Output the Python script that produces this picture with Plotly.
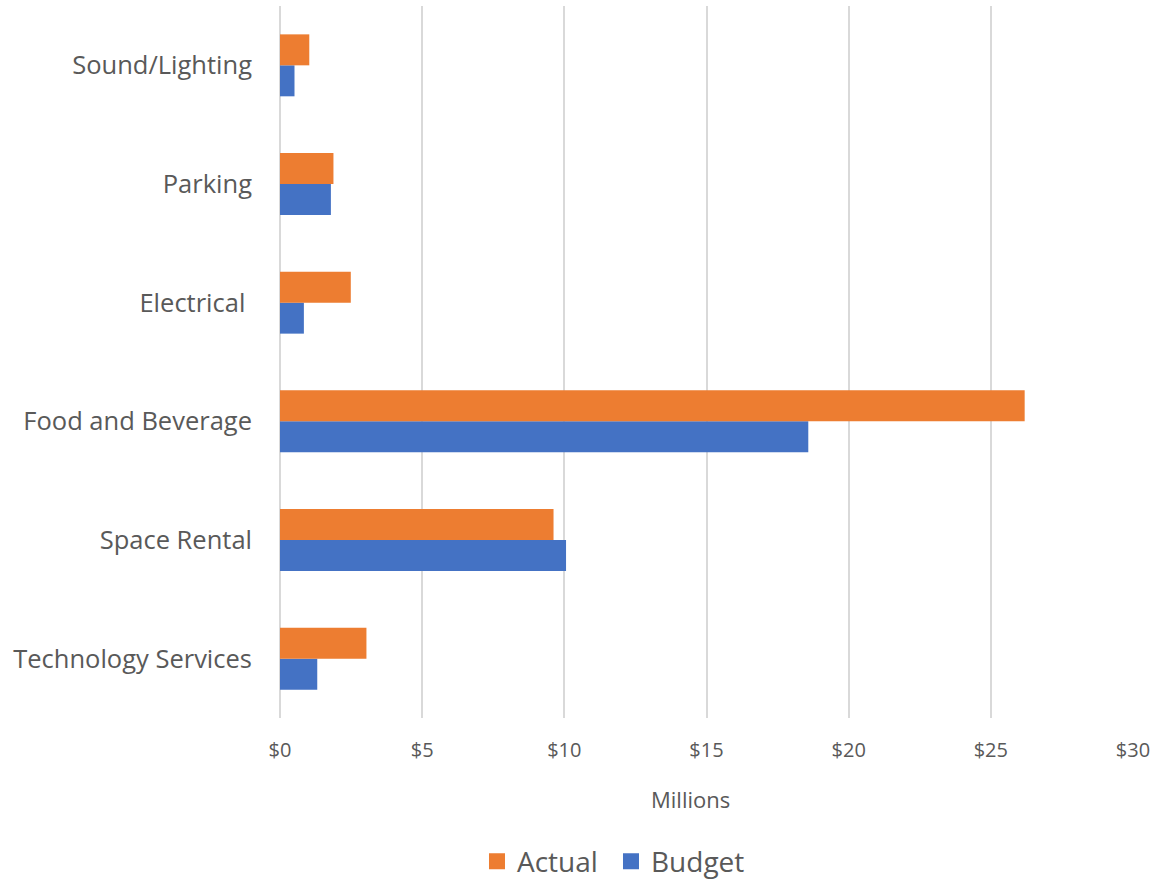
import plotly.graph_objects as go

categories = ["Technology Services", "Space Rental", "Food and Beverage", "Electrical ", "Parking", "Sound/Lighting"]
actual = [3.04, 9.62, 26.19, 2.49, 1.88, 1.03]
budget = [1.31, 10.06, 18.58, 0.84, 1.79, 0.51]
x_ticks = [0, 5, 10, 15, 20, 25, 30]
x_tick_labels = ["$" + str(v) for v in x_ticks]

FONT = "Open Sans"
GRAY = "#595959"
ORANGE = "#ED7D31"
BLUE = "#4472C4"

fig = go.Figure()
fig.add_trace(go.Bar(y=categories, x=budget, name="Budget", orientation="h",
                     marker=dict(color=BLUE, line=dict(width=0)), showlegend=False))
fig.add_trace(go.Bar(y=categories, x=actual, name="Actual", orientation="h",
                     marker=dict(color=ORANGE, line=dict(width=0)), showlegend=False))
# legend entries (square swatches)
fig.add_trace(go.Scatter(x=[None], y=[None], mode="markers", name="Actual",
                         marker=dict(symbol="square", size=17, color=ORANGE)))
fig.add_trace(go.Scatter(x=[None], y=[None], mode="markers", name="Budget",
                         marker=dict(symbol="square", size=17, color=BLUE)))

fig.update_layout(
    width=1155, height=881,
    margin=dict(l=280, r=22, t=6, b=163),
    paper_bgcolor="white", plot_bgcolor="white",
    barmode="group", bargap=0.478, bargroupgap=0,
    font=dict(family=FONT, color=GRAY),
    legend=dict(orientation="h", traceorder="normal",
                xref="container", yref="container",
                x=0.529, xanchor="center", y=0.022, yanchor="middle",
                itemwidth=30, entrywidth=89, entrywidthmode="pixels",
                font=dict(size=28, color=GRAY)),
    xaxis=dict(range=[0, 30], tickvals=x_ticks, ticktext=x_tick_labels,
               showgrid=True, gridcolor="#d9d9d9", gridwidth=1.5,
               zeroline=True, zerolinecolor="#d9d9d9", zerolinewidth=2,
               showline=False, ticks="", tickfont=dict(size=20, color=GRAY),
               ticklabelstandoff=18, automargin=False),
    yaxis=dict(showgrid=False, zeroline=False, showline=False, ticks="",
               tickfont=dict(size=25.5, color=GRAY), ticklabelstandoff=27,
               automargin=False),
    annotations=[dict(text="Millions", xref="paper", yref="paper",
                      x=0.4818, y=-0.1138, xanchor="center", yanchor="middle",
                      showarrow=False, font=dict(size=22, color=GRAY))],
)

fig.write_html("out.html", config={"displayModeBar": False},
               post_script="document.body.style.margin='0';document.body.style.overflow='hidden';")
